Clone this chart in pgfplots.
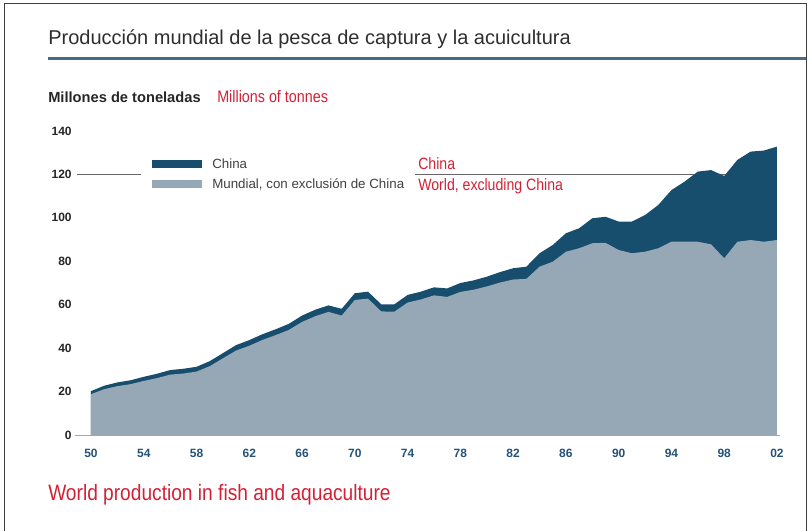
\documentclass[border=0pt]{standalone}
\usepackage{fontspec}
\setmainfont{Liberation Sans}
\newfontfamily\redfont[FakeStretch=0.86]{Liberation Sans}
\usepackage{pgfplots}
\usepackage{pgfplotstable}
\pgfplotsset{compat=1.18}

\definecolor{chinaCol}{HTML}{174D6D}
\definecolor{worldCol}{HTML}{96A8B6}
\definecolor{redTxt}{HTML}{D42035}
\definecolor{tickBlue}{HTML}{24527A}
\definecolor{titleCol}{HTML}{2E2E2E}
\definecolor{ruleCol}{HTML}{4B6A84}

% world excluding China / China, million tonnes
\pgfplotstableread{
year world china
1950 18.8 1.4
1951 21.1 1.6
1952 22.5 1.7
1953 23.4 1.8
1954 24.9 1.9
1955 26.2 2.0
1956 27.8 2.1
1957 28.3 2.2
1958 29.2 2.2
1959 31.7 2.3
1960 35.3 2.4
1961 38.9 2.5
1962 41.1 2.6
1963 43.8 2.6
1964 46.0 2.7
1965 48.4 2.8
1966 52.1 2.9
1967 54.7 3.0
1968 56.7 3.0
1969 55.0 3.1
1970 62.2 3.1
1971 62.8 3.2
1972 56.9 3.3
1973 56.8 3.4
1974 61.0 3.5
1975 62.4 3.6
1976 64.3 3.7
1977 63.6 3.9
1978 65.9 4.1
1979 66.9 4.3
1980 68.4 4.5
1981 70.2 4.8
1982 71.6 5.2
1983 71.9 5.6
1984 77.5 6.2
1985 79.8 7.7
1986 84.4 8.5
1987 86.0 9.2
1988 88.3 11.5
1989 88.5 12.0
1990 85.2 13.1
1991 83.7 14.6
1992 84.4 16.9
1993 86.0 19.9
1994 89.0 23.8
1995 89.0 27.7
1996 89.0 32.3
1997 87.8 34.2
1998 81.4 37.9
1999 89.0 37.7
2000 89.8 40.7
2001 89.0 42.0
2002 89.8 43.0
}\catchdata

\begin{document}
\begin{tikzpicture}
\begin{scope}[x=0.75pt,y=-0.75pt]
\useasboundingbox (0,0) rectangle (811,531);
\draw[black!75, line width=0.9pt] (4.5,531) -- (4.5,3.5) -- (806.5,3.5) -- (806.5,531);

% title
\node[anchor=base west, inner sep=0, text=titleCol,
      font=\fontsize{15}{17}\selectfont] at (48,45)
  {Producción mundial de la pesca de captura y la acuicultura};
\draw[ruleCol, line width=1.6pt] (48,58.5) -- (806,58.5);

\node[anchor=base west, inner sep=0, text=black!85,
      font=\bfseries\fontsize{11}{13}\selectfont] at (48,103) {Millones de toneladas};
\node[anchor=base west, inner sep=0, text=redTxt,
      font=\redfont\fontsize{12.5}{14}\selectfont] at (217,103) {Millions of tonnes};

% leader line at 120
\draw[black!60, line width=0.9pt] (77,174.4) -- (141,174.4);
\draw[black!60, line width=0.9pt] (415,174.4) -- (728,174.4);
\end{scope}

\begin{axis}[
    at={(68.25pt,-326.25pt)}, anchor=south west,
    scale only axis,
    width=514.5pt, height=228pt,
    xmin=1950, xmax=2002,
    ymin=0, ymax=140,
    axis line style={draw=none},
    major tick length=0pt,
    xtick={1950,1954,1958,1962,1966,1970,1974,1978,1982,1986,1990,1994,1998,2002},
    xticklabels={50,54,58,62,66,70,74,78,82,86,90,94,98,02},
    ytick={0,20,...,140},
    xticklabel style={text=tickBlue, font=\bfseries\fontsize{9}{10}\selectfont,
        anchor=north, text height=7pt, text depth=0pt, yshift=-6pt},
    yticklabel style={text=black!85, font=\bfseries\fontsize{9}{10}\selectfont, xshift=-11pt},
    /pgf/number format/assume math mode=true,
    clip=false,
]
\addplot[fill=chinaCol, draw=none]
  table[x=year, y expr=\thisrow{world}+\thisrow{china}] {\catchdata} \closedcycle;
\addplot[fill=worldCol, draw=none]
  table[x=year, y=world] {\catchdata} \closedcycle;
\end{axis}

\begin{scope}[x=0.75pt,y=-0.75pt]
\draw[black!35, line width=1.3pt] (75,435.5) -- (780,435.5);

% legend
\fill[chinaCol] (152,160) rectangle (202,168);
\fill[worldCol] (152,180) rectangle (202,188);
\node[anchor=west, inner sep=0, text=black!75, font=\fontsize{10}{11}\selectfont] at (212,164) {China};
\node[anchor=west, inner sep=0, text=black!75, font=\fontsize{10}{11}\selectfont] at (212,184) {Mundial, con exclusión de China};

% red annotations
\node[anchor=west, inner sep=0, text=redTxt, font=\redfont\fontsize{12.3}{14}\selectfont] at (418,164) {China};
\node[anchor=west, inner sep=0, text=redTxt, font=\redfont\fontsize{12.3}{14}\selectfont] at (418,186) {World, excluding China};

\node[anchor=west, inner sep=0, text=redTxt, font=\redfont\fontsize{16.7}{19}\selectfont] at (48,495) {World production in fish and aquaculture};
\end{scope}
\end{tikzpicture}
\end{document}
